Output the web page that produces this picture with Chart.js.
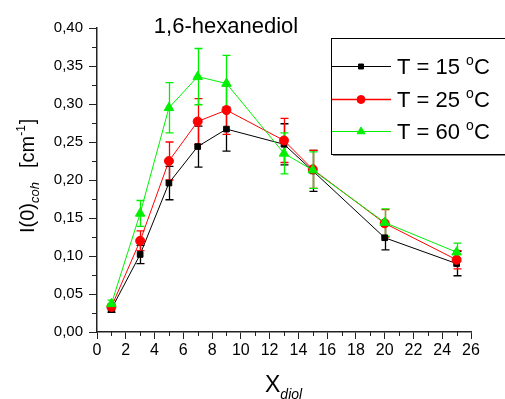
<!DOCTYPE html>
<html>
<head>
<meta charset="utf-8">
<script src="https://cdn.jsdelivr.net/npm/chart.js@4.4.0/dist/chart.umd.min.js"></script>
<style>
  html, body { margin: 0; padding: 0; background: #fff; }
  #wrap { width: 505px; height: 399px; }
</style>
</head>
<body>
<div id="wrap"><canvas id="c" width="505" height="399"></canvas></div>
<script>
// data
const xDiol = [1, 3, 5, 7, 9, 13, 15, 20, 25];
const temps = [15, 25, 60];
const i15 = [0.030, 0.102, 0.196, 0.244, 0.267, 0.247, 0.212, 0.124, 0.090];
const err15 = [0.004, 0.012, 0.022, 0.027, 0.029, 0.027, 0.027, 0.016, 0.016];
const i25 = [0.033, 0.120, 0.225, 0.277, 0.292, 0.252, 0.214, 0.143, 0.095];
const err25 = [0.004, 0.013, 0.025, 0.030, 0.032, 0.029, 0.025, 0.018, 0.012];
const i60 = [0.037, 0.156, 0.295, 0.336, 0.327, 0.235, 0.213, 0.144, 0.105];
const err60 = [0.005, 0.017, 0.033, 0.037, 0.037, 0.027, 0.024, 0.018, 0.012];
const yTicks = [0, 0.05, 0.10, 0.15, 0.20, 0.25, 0.30, 0.35, 0.40];

const FONT = 'Arial, "Liberation Sans", sans-serif';
const axisColor = '#222';

const series = [
    { t: temps[0], y: i15, err: err15, color: '#000000', style: 'rect', radius: 4, legendRadius: 3.5, order: 3 },
    { t: temps[1], y: i25, err: err25, color: '#ff0000', style: 'circle', radius: 4.5, legendRadius: 4, order: 2 },
    { t: temps[2], y: i60, err: err60, color: '#00f000', style: 'triangle', radius: 5.5, legendRadius: 4.5, order: 1 }
];

// error bars under the markers
const errorBars = {
    id: 'errorBars',
    beforeDatasetsDraw(chart) {
        const ctx = chart.ctx;
        const xs = chart.scales.x, ys = chart.scales.y;
        ctx.save();
        ctx.lineWidth = 1.3;
        series.forEach(s => {
            ctx.strokeStyle = s.color;
            xDiol.forEach((xv, i) => {
                const px = Math.round(xs.getPixelForValue(xv)) + 0.5;
                const top = ys.getPixelForValue(s.y[i] + s.err[i]);
                const bot = ys.getPixelForValue(s.y[i] - s.err[i]);
                ctx.beginPath();
                ctx.moveTo(px, top); ctx.lineTo(px, bot);
                ctx.moveTo(px - 4, top); ctx.lineTo(px + 4, top);
                ctx.moveTo(px - 4, bot); ctx.lineTo(px + 4, bot);
                ctx.stroke();
            });
        });
        ctx.restore();
    }
};

// minor ticks, axis titles, title and legend box
const decorations = {
    id: 'decorations',
    afterDraw(chart) {
        const ctx = chart.ctx;
        const xs = chart.scales.x, ys = chart.scales.y;
        const area = chart.chartArea;
        ctx.save();

        // minor ticks
        ctx.strokeStyle = axisColor;
        ctx.lineWidth = 1;
        for (let v = 1; v < 26; v += 2) {
            const px = Math.round(xs.getPixelForValue(v)) + 0.5;
            ctx.beginPath();
            ctx.moveTo(px, area.bottom); ctx.lineTo(px, area.bottom + 4);
            ctx.stroke();
        }
        for (let k = 0; k < yTicks.length - 1; k++) {
            const v = (yTicks[k] + yTicks[k + 1]) / 2;
            const py = Math.round(ys.getPixelForValue(v)) + 0.5;
            ctx.beginPath();
            ctx.moveTo(area.left, py); ctx.lineTo(area.left - 5, py);
            ctx.stroke();
        }

        ctx.fillStyle = '#000';
        ctx.textBaseline = 'alphabetic';

        // title
        ctx.font = '22px ' + FONT;
        ctx.textAlign = 'center';
        ctx.fillText('1,6-hexanediol', 226, 33);

        // x title
        ctx.textAlign = 'left';
        ctx.font = '23px ' + FONT;
        ctx.fillText('X', 265, 392);
        const wX = ctx.measureText('X').width;
        ctx.font = 'italic 14px ' + FONT;
        ctx.fillText('diol', 265 + wX, 399);

        // y title (rotated)
        ctx.save();
        ctx.translate(34, 233);
        ctx.rotate(-Math.PI / 2);
        ctx.font = '20px ' + FONT;
        let x = 0;
        ctx.fillText('I(0)', x, 0);
        x += ctx.measureText('I(0)').width;
        ctx.font = 'italic 13px ' + FONT;
        ctx.fillText('coh', x, 5);
        x += ctx.measureText('coh').width;
        ctx.font = '20px ' + FONT;
        x += 14;
        ctx.fillText('[cm', x, 0);
        x += ctx.measureText('[cm').width;
        ctx.font = '12px ' + FONT;
        ctx.fillText('-1', x, -9);
        x += ctx.measureText('-1').width + 1;
        ctx.font = '20px ' + FONT;
        ctx.fillText(']', x, 0);
        ctx.restore();

        // legend box
        const bx = 331, by = 38, bw = 180, bh = 116;
        ctx.fillStyle = '#888';
        ctx.fillRect(bx + 2, by + bh, bw, 2);
        ctx.strokeStyle = '#000';
        ctx.lineWidth = 1;
        ctx.strokeRect(bx + 0.5, by + 0.5, bw, bh);

        const rows = [66, 99, 131];
        series.forEach((s, i) => {
            const ly = rows[i] + 0.5;
            ctx.strokeStyle = s.color;
            ctx.lineWidth = i === 1 ? 1.5 : 1;
            ctx.beginPath();
            ctx.moveTo(332, ly); ctx.lineTo(391, ly);
            ctx.stroke();

            ctx.save();
            ctx.fillStyle = s.color;
            ctx.strokeStyle = s.color;
            ctx.lineWidth = 1;
            Chart.helpers.drawPoint(ctx, { pointStyle: s.style, radius: s.legendRadius, borderWidth: 1, rotation: 0 }, 361, ly);
            ctx.restore();

            ctx.fillStyle = '#000';
            ctx.font = '22px ' + FONT;
            const base = `T = ${s.t} `;
            let tx = 397;
            const tyy = rows[i] + 8;
            ctx.fillText(base, tx, tyy);
            tx += ctx.measureText(base).width;
            ctx.font = '14px ' + FONT;
            ctx.fillText('o', tx, tyy - 9);
            tx += ctx.measureText('o').width;
            ctx.font = '22px ' + FONT;
            ctx.fillText('C', tx, tyy);
        });

        ctx.restore();
    }
};

const chart = new Chart(document.getElementById('c').getContext('2d'), {
    type: 'scatter',
    data: {
        datasets: series.map(s => ({
            label: `T = ${s.t} °C`,
            data: xDiol.map((xv, i) => ({ x: xv, y: s.y[i] })),
            showLine: true,
            borderColor: s.color,
            backgroundColor: s.color,
            borderWidth: 1,
            pointStyle: s.style,
            pointRadius: s.radius,
            pointBorderWidth: 1,
            order: s.order
        }))
    },
    options: {
        responsive: false,
        animation: false,
        layout: { padding: { top: 28, right: 34, left: 0, bottom: 0 } },
        plugins: {
            legend: { display: false },
            tooltip: { enabled: false },
            title: { display: false }
        },
        scales: {
            x: {
                type: 'linear',
                min: 0,
                max: 26,
                afterFit: scale => { scale.height = 67; },
                border: { color: axisColor, width: 1.5 },
                grid: { drawOnChartArea: false, drawTicks: true, tickLength: 7, color: axisColor },
                ticks: {
                    stepSize: 2,
                    color: '#000',
                    padding: 2,
                    maxRotation: 0,
                    font: { family: FONT, size: 16 }
                }
            },
            y: {
                min: 0,
                max: 0.4,
                afterFit: scale => { scale.width = 97; },
                afterBuildTicks: scale => { scale.ticks = yTicks.map(v => ({ value: v })); },
                border: { color: axisColor, width: 1.5 },
                grid: { drawOnChartArea: false, drawTicks: true, tickLength: 8, color: axisColor },
                ticks: {
                    color: '#000',
                    padding: 6,
                    font: { family: FONT, size: 15 },
                    callback: v => v.toFixed(2).replace('.', ',')
                }
            }
        }
    },
    plugins: [errorBars, decorations]
});
</script>
</body>
</html>
